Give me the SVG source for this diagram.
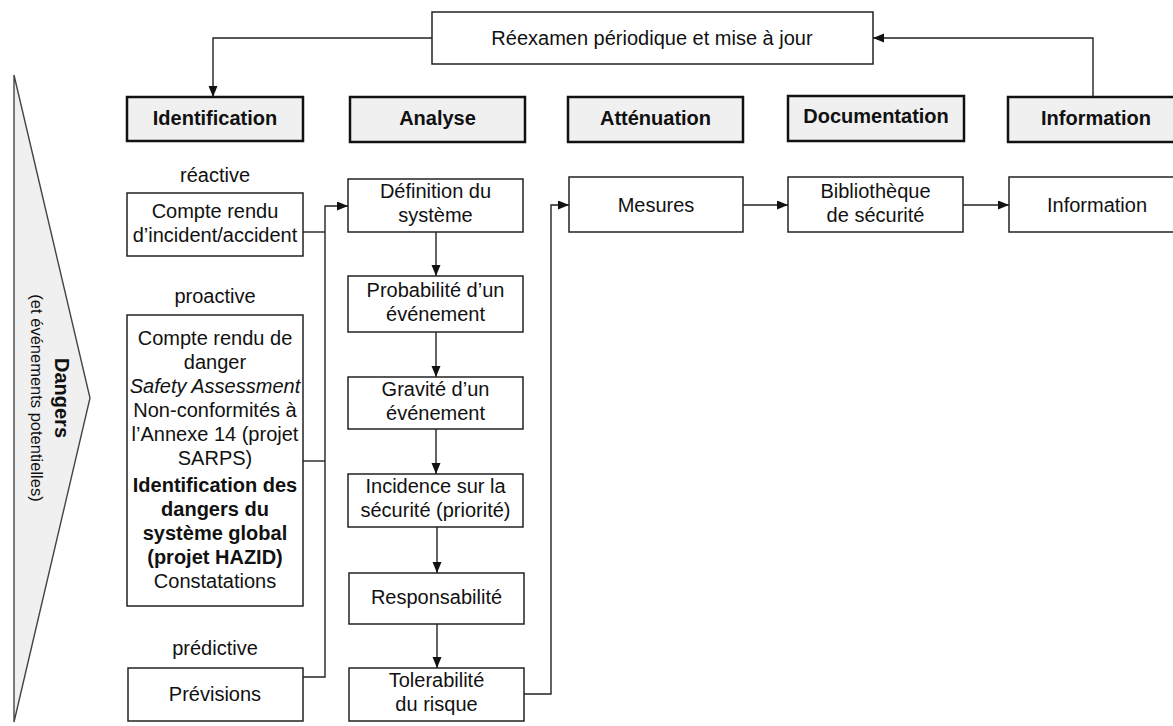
<svg xmlns="http://www.w3.org/2000/svg" width="1173" height="726" viewBox="0 0 1173 726">
<defs>
<marker id="ah" markerUnits="userSpaceOnUse" markerWidth="12" markerHeight="10" refX="11" refY="4.5" orient="auto">
<path d="M0,0 L11,4.5 L0,9 z" fill="#111"/>
</marker>
<style>
text{font-family:"Liberation Sans",Arial,sans-serif;font-size:20px;fill:#111;text-anchor:middle}
.b{font-weight:bold}
.i{font-style:italic}
.sm{font-size:16.5px}
.box{fill:#fff;stroke:#222;stroke-width:1.5}
.hdr{fill:#f0f0f0;stroke:#111;stroke-width:2.5}
.c{fill:none;stroke:#222;stroke-width:1.4}
</style>
</defs>
<rect width="1173" height="726" fill="#fff"/>

<g id="dangers">
<polygon points="14,75 90,398 14,722" fill="#f0f0f0" stroke="#444" stroke-width="1.4"/>
<text class="b" transform="translate(62,398) rotate(90)" dy="7">Dangers</text>
<text class="sm" transform="translate(37,398) rotate(90)" dy="6">(et événements potentielles)</text>
</g>

<g id="reexamen">
<rect class="box" x="432" y="12" width="441" height="52"/>
<text x="652" y="45">Réexamen périodique et mise à jour</text>
</g>

<g id="h-identification"><rect class="hdr" x="127" y="97" width="176" height="44"/><text class="b" x="215" y="125">Identification</text></g>
<g id="h-analyse"><rect class="hdr" x="350" y="97" width="175" height="45"/><text class="b" x="437.5" y="125">Analyse</text></g>
<g id="h-attenuation"><rect class="hdr" x="568" y="97" width="175" height="45"/><text class="b" x="655.5" y="125">Atténuation</text></g>
<g id="h-documentation"><rect class="hdr" x="788" y="96" width="176" height="45"/><text class="b" x="876" y="123">Documentation</text></g>
<g id="h-information"><rect class="hdr" x="1008" y="97" width="176" height="45"/><text class="b" x="1096" y="125">Information</text></g>

<g id="lbl-reactive"><text x="215" y="182">réactive</text></g>
<g id="compte-rendu"><rect class="box" x="127" y="193" width="176" height="63"/><text x="215" y="218">Compte rendu</text><text x="215" y="242">d’incident/accident</text></g>

<g id="lbl-proactive"><text x="215" y="303">proactive</text></g>
<g id="proactive-box">
<rect class="box" x="127" y="315" width="176" height="291"/>
<text x="215" y="345">Compte rendu de</text>
<text x="215" y="369">danger</text>
<text class="i" x="215" y="393">Safety Assessment</text>
<text x="215" y="417">Non-conformités à</text>
<text x="215" y="441">l’Annexe 14 (projet</text>
<text x="215" y="465">SARPS)</text>
<text class="b" x="215" y="492">Identification des</text>
<text class="b" x="215" y="516">dangers du</text>
<text class="b" x="215" y="540">système global</text>
<text class="b" x="215" y="564">(projet HAZID)</text>
<text x="215" y="588">Constatations</text>
</g>

<g id="lbl-predictive"><text x="215" y="655">prédictive</text></g>
<g id="previsions"><rect class="box" x="128" y="668" width="175" height="53"/><text x="215" y="701">Prévisions</text></g>

<g id="definition"><rect class="box" x="348" y="179" width="175" height="53"/><text x="435.5" y="198">Définition du</text><text x="435.5" y="222">système</text></g>
<g id="probabilite"><rect class="box" x="348" y="276" width="175" height="56"/><text x="435.5" y="297">Probabilité d’un</text><text x="435.5" y="321">événement</text></g>
<g id="gravite"><rect class="box" x="348" y="377" width="175" height="52"/><text x="435.5" y="396">Gravité d’un</text><text x="435.5" y="420">événement</text></g>
<g id="incidence"><rect class="box" x="348" y="474" width="175" height="53"/><text x="435.5" y="493">Incidence sur la</text><text x="435.5" y="517">sécurité (priorité)</text></g>
<g id="responsabilite"><rect class="box" x="349" y="573" width="175" height="51"/><text x="436.5" y="604">Responsabilité</text></g>
<g id="tolerabilite"><rect class="box" x="349" y="668" width="175" height="53"/><text x="436.5" y="687">Tolerabilité</text><text x="436.5" y="711">du risque</text></g>

<g id="mesures"><rect class="box" x="569" y="177" width="174" height="55"/><text x="656" y="212">Mesures</text></g>
<g id="bibliotheque"><rect class="box" x="788" y="177" width="175" height="55"/><text x="875.5" y="198">Bibliothèque</text><text x="875.5" y="222">de sécurité</text></g>
<g id="information"><rect class="box" x="1009" y="177" width="176" height="55"/><text x="1097" y="212">Information</text></g>

<g id="connectors" class="c">
<path class="c" d="M432,38 H213 V97" marker-end="url(#ah)"/>
<path class="c" d="M1093,97 V38 H873" marker-end="url(#ah)"/>
<path class="c" d="M303,232 H325"/>
<path class="c" d="M303,461 H325"/>
<path class="c" d="M303,677 H325 V206 H348" marker-end="url(#ah)"/>
<path class="c" d="M436,232 V276" marker-end="url(#ah)"/>
<path class="c" d="M436,332 V377" marker-end="url(#ah)"/>
<path class="c" d="M436,429 V474" marker-end="url(#ah)"/>
<path class="c" d="M437,527 V573" marker-end="url(#ah)"/>
<path class="c" d="M437,624 V668" marker-end="url(#ah)"/>
<path class="c" d="M524,694 H551 V205 H569" marker-end="url(#ah)"/>
<path class="c" d="M743,205 H788" marker-end="url(#ah)"/>
<path class="c" d="M963,205 H1009" marker-end="url(#ah)"/>
</g>
</svg>
